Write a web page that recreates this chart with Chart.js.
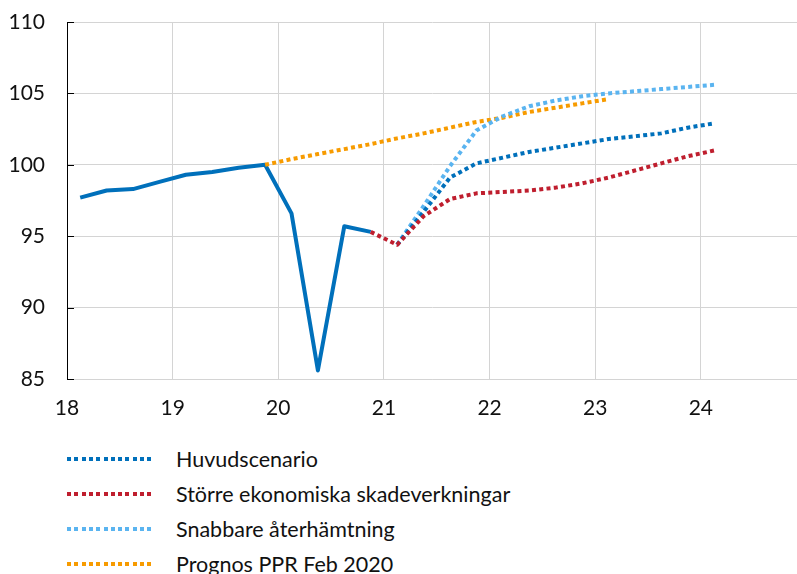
<!DOCTYPE html>
<html>
<head>
<meta charset="utf-8">
<script src="https://cdn.jsdelivr.net/npm/chart.js@4.4.1/dist/chart.umd.min.js"></script>
<style>
  html, body { margin: 0; padding: 0; background: #fff; }
  #wrap { position: relative; width: 797px; height: 574px; overflow: hidden; font-family: Lato, "Open Sans", sans-serif; }
  #chart { position: absolute; left: 0; top: 0; }
  #legend { position: absolute; left: 67px; top: 441px; }
  .row { position: relative; height: 35px; display: flex; align-items: center; }
  .sample { width: 88px; height: 4px; margin-right: 21px; }
  .label { font-size: 21.5px; color: #111; white-space: nowrap; }
</style>
</head>
<body>
<div id="wrap">
  <canvas id="chart" width="797" height="430"></canvas>
  <div id="legend"></div>
</div>
<script>
// Quarterly observations, placed at the middle of each quarter (year - 2000)
const histX = [18.125, 18.375, 18.625, 18.875, 19.125, 19.375, 19.625, 19.875, 20.125, 20.375, 20.625, 20.875];
const histY = [97.7, 98.2, 98.3, 98.8, 99.3, 99.5, 99.8, 100.0, 96.6, 85.6, 95.7, 95.3];

// Scenario paths
const scenX = [21.125, 21.375, 21.625, 21.875, 22.125, 22.375, 22.625, 22.875, 23.125, 23.375, 23.625, 23.875, 24.125];
const huvudY = [94.4, 96.7, 99.1, 100.1, 100.5, 100.9, 101.2, 101.5, 101.8, 102.0, 102.2, 102.6, 102.9];
const storreX = [20.875, 21.125, 21.375, 21.625, 21.875, 22.125, 22.375, 22.625, 22.875, 23.125, 23.375, 23.625, 23.875, 24.125];
const storreY = [95.3, 94.4, 96.4, 97.6, 98.0, 98.1, 98.2, 98.4, 98.7, 99.1, 99.6, 100.1, 100.6, 101.0];
const snabbY = [94.4, 97.1, 99.9, 102.4, 103.4, 104.1, 104.5, 104.8, 105.0, 105.15, 105.3, 105.45, 105.6];

// February 2020 forecast
const prognosX = [19.875, 20.125, 20.375, 20.625, 20.875, 21.125, 21.375, 21.625, 21.875, 22.125, 22.375, 22.625, 22.875, 23.125];
const prognosY = [100.0, 100.4, 100.75, 101.1, 101.45, 101.85, 102.2, 102.6, 103.0, 103.3, 103.7, 104.0, 104.3, 104.6];

const xTicks = [18, 19, 20, 21, 22, 23, 24];
const yTicks = [85, 90, 95, 100, 105, 110];

const legendNames = ["Huvudscenario", "Större ekonomiska skadeverkningar", "Snabbare återhämtning", "Prognos PPR Feb 2020"];
const colors = { hist: "#0070bb", huvud: "#0070bb", storre: "#bf1e2e", snabb: "#5ab4f0", prognos: "#f79b00" };

const pts = (xs, ys) => xs.map((x, i) => ({ x: x, y: ys[i] }));
const dash = [4, 3.3];

const datasets = [
  { label: "Utfall", data: pts(histX, histY), borderColor: colors.hist, borderWidth: 4, order: 4 },
  { label: legendNames[0], data: pts(scenX, huvudY), borderColor: colors.huvud, borderWidth: 4, borderDash: dash, order: 1 },
  { label: legendNames[1], data: pts(storreX, storreY), borderColor: colors.storre, borderWidth: 4, borderDash: dash, order: 0 },
  { label: legendNames[2], data: pts(scenX, snabbY), borderColor: colors.snabb, borderWidth: 4, borderDash: dash, order: 2 },
  { label: legendNames[3], data: pts(prognosX, prognosY), borderColor: colors.prognos, borderWidth: 4, borderDash: dash, order: 3 }
];
datasets.forEach(d => { d.pointRadius = 0; d.pointHoverRadius = 0; d.tension = 0; d.fill = false; d.borderCapStyle = "butt"; d.borderJoinStyle = "round"; });

// Short tick marks drawn inside the plot along the value axis
const innerTicks = {
  id: "innerTicks",
  afterDatasetsDraw(chart) {
    const y = chart.scales.y, ctx = chart.ctx, left = chart.chartArea.left;
    ctx.save();
    ctx.strokeStyle = "#000";
    ctx.lineWidth = 1;
    y.ticks.forEach(t => {
      const py = Math.round(y.getPixelForValue(t.value)) + 0.5;
      ctx.beginPath();
      ctx.moveTo(left, py);
      ctx.lineTo(left + 7, py);
      ctx.stroke();
    });
    ctx.restore();
  }
};

new Chart(document.getElementById("chart"), {
  type: "line",
  data: { datasets: datasets },
  plugins: [innerTicks],
  options: {
    responsive: false,
    devicePixelRatio: 1,
    animation: false,
    layout: { padding: { top: 22, right: 0, left: 0, bottom: 0 } },
    plugins: { legend: { display: false }, tooltip: { enabled: false } },
    scales: {
      x: {
        type: "linear",
        min: 18,
        max: 24.91,
        afterBuildTicks: s => { s.ticks = xTicks.map(v => ({ value: v })); },
        afterFit: s => { s.height = 51; s.paddingLeft = 0; s.paddingRight = 0; },
        ticks: { padding: 17, color: "#111", font: { family: "Lato", size: 21 }, callback: v => String(v) },
        grid: { color: "#d4d4d4", lineWidth: 1, drawTicks: false },
        border: { color: "#d4d4d4", width: 1 }
      },
      y: {
        min: 85,
        max: 110,
        afterBuildTicks: s => { s.ticks = yTicks.map(v => ({ value: v })); },
        afterFit: s => { s.width = 67; s.paddingTop = 0; s.paddingBottom = 0; },
        ticks: { padding: 22, color: "#111", font: { family: "Lato", size: 21 } },
        grid: { color: "#d4d4d4", lineWidth: 1, drawTicks: false },
        border: { color: "#000", width: 1 }
      }
    }
  }
});

// Legend rows below the plot
const legendColors = [colors.huvud, colors.storre, colors.snabb, colors.prognos];
const legend = document.getElementById("legend");
legendNames.forEach((name, i) => {
  const row = document.createElement("div");
  row.className = "row";
  const s = document.createElement("div");
  s.className = "sample";
  s.style.background = "repeating-linear-gradient(to right, " + legendColors[i] + " 0 4px, transparent 4px 7.3px)";
  const l = document.createElement("div");
  l.className = "label";
  l.textContent = name;
  row.appendChild(s);
  row.appendChild(l);
  legend.appendChild(row);
});
</script>
</body>
</html>
